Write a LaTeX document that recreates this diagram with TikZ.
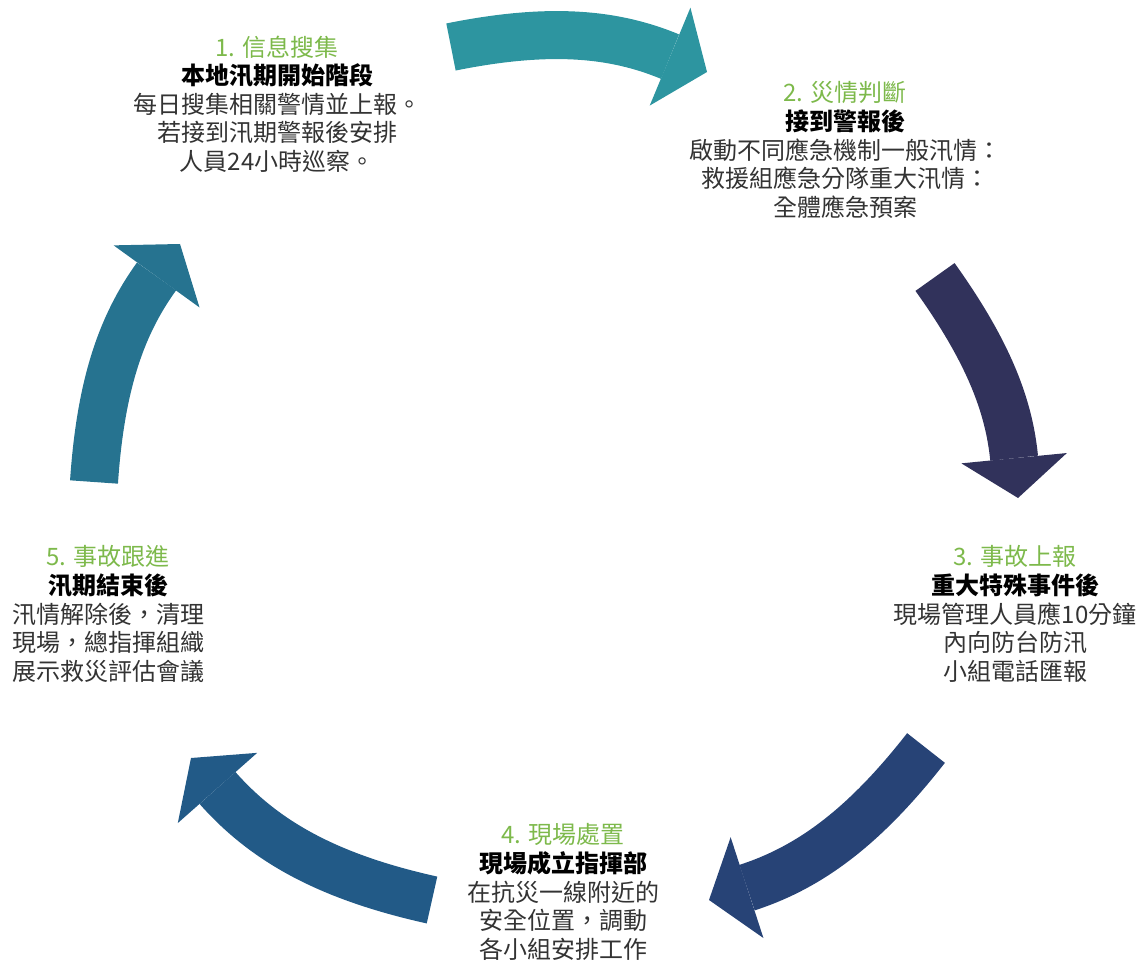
\documentclass[tikz,border=0pt]{standalone}
\usepackage{fontspec}
\newfontfamily\cjk{Noto Sans CJK TC}
\usetikzlibrary{arrows.meta}

\definecolor{arrowone}{HTML}{2D95A0}
\definecolor{arrowtwo}{HTML}{31325B}
\definecolor{arrowthree}{HTML}{274376}
\definecolor{arrowfour}{HTML}{225A87}
\definecolor{arrowfive}{HTML}{267390}
\definecolor{titlegreen}{HTML}{7DB94B}
\definecolor{bodygray}{HTML}{333333}

\tikzset{
  flow/.style={line width=24pt, -{Triangle[width=53pt,length=20pt,line width=0pt]}},
  stage/.style={align=center, inner sep=0pt, text=bodygray,
    font=\cjk\fontsize{12}{14.3}\selectfont},
}
\newcommand{\stagetitle}[1]{{\color{titlegreen}#1}}
\newcommand{\stagehead}[1]{{\color{black}\bfseries #1}}

\begin{document}
\begin{tikzpicture}[x=0.5pt,y=0.5pt]
    \useasboundingbox (0,0) rectangle (1144,965);

    % the five stages
    \node[stage] (collect) at (277,861) {\stagetitle{1. 信息搜集}\\ \stagehead{本地汛期開始階段}\\ 每日搜集相關警情並上報。\\ 若接到汛期警報後安排\\ 人員24小時巡察。};
    \node[stage] (assess) at (845,815) {\stagetitle{2. 災情判斷}\\ \stagehead{接到警報後}\\ 啟動不同應急機制一般汛情：\\ 救援組應急分隊重大汛情：\\ 全體應急預案};
    \node[stage] (report) at (1015,351) {\stagetitle{3. 事故上報}\\ \stagehead{重大特殊事件後}\\ 現場管理人員應10分鐘\\ 內向防台防汛\\ 小組電話匯報};
    \node[stage] (handle) at (563,73) {\stagetitle{4. 現場處置}\\ \stagehead{現場成立指揮部}\\ 在抗災一線附近的\\ 安全位置，調動\\ 各小組安排工作};
    \node[stage] (follow) at (108,351) {\stagetitle{5. 事故跟進}\\ \stagehead{汛期結束後}\\ 汛情解除後，清理\\ 現場，總指揮組織\\ 展示救災評估會議};

    % arrow ends
    \coordinate (tail1) at (451,918);
    \coordinate (tip1) at (707,893);
    \coordinate (tail2) at (935,688);
    \coordinate (tip2) at (1018,467);
    \coordinate (tail3) at (926,217);
    \coordinate (tip3) at (709,65);
    \coordinate (tail4) at (432,65);
    \coordinate (tip4) at (191,207);
    \coordinate (tail5) at (94,483);
    \coordinate (tip5) at (180,721);

    % the cycle
    \draw[flow, arrowone] (tail1) to[bend left=17] (tip1);
    \draw[flow, arrowtwo] (tail2) to[bend left=15] (tip2);
    \draw[flow, arrowthree] (tail3) to[bend left=17] (tip3);
    \draw[flow, arrowfour] (tail4) to[bend left=18] (tip4);
    \draw[flow, arrowfive] (tail5) to[bend left=16] (tip5);
\end{tikzpicture}
\end{document}
